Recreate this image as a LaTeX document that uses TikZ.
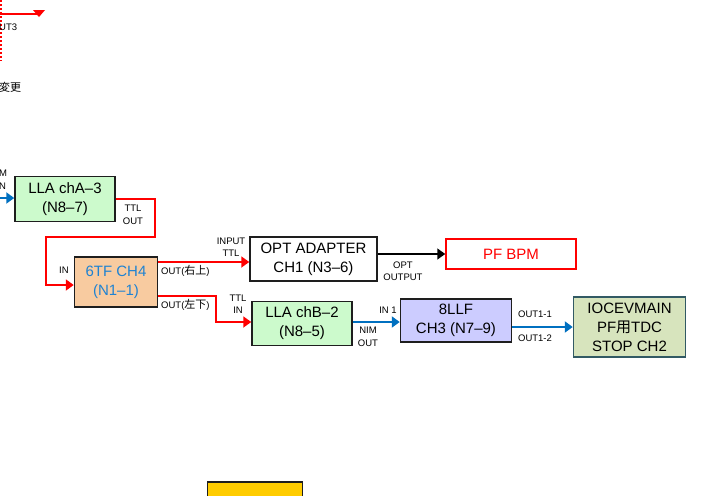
\documentclass[tikz,border=0pt]{standalone}
\usepackage{fontspec}
\setmainfont{Liberation Sans}
\newfontfamily\jp{Noto Sans CJK JP}
\usetikzlibrary{arrows.meta}
\definecolor{boxline}{RGB}{30,30,30}
\definecolor{boxgreen}{RGB}{204,250,204}
\definecolor{boxorange}{RGB}{248,203,160}
\definecolor{boxlav}{RGB}{204,204,255}
\definecolor{boxolive}{RGB}{215,228,189}
\definecolor{olivedge}{RGB}{50,90,100}
\definecolor{boxyellow}{RGB}{255,204,0}
\definecolor{sigred}{RGB}{255,0,0}
\definecolor{sigblue}{RGB}{0,112,192}
\definecolor{tfblue}{RGB}{30,130,210}
\newcommand{\jpsmall}[1]{{\jp\fontsize{11}{12}\selectfont #1}}

\begin{document}
\begin{tikzpicture}[x=1pt,y=-1pt,
    box/.style={draw=boxline,line width=1.5pt,align=center,inner sep=0pt,
      font=\fontsize{15}{19}\selectfont},
    lbl/.style={align=center,inner sep=0pt,font=\fontsize{9.5}{12.5}\selectfont},
    redline/.style={draw=sigred,line width=1.8pt},
    redarr/.style={redline,-{Triangle[length=8pt,width=11pt]}},
    bluearr/.style={draw=sigblue,line width=2pt,-{Triangle[length=8pt,width=11pt]}},
    blackarr/.style={draw=black,line width=1.6pt,-{Triangle[length=8pt,width=11pt]}}]
  \useasboundingbox (0,0) rectangle (716,496);
  \clip (0,0) rectangle (716,496);

  % top left corner
  \draw[sigred,line width=1.8pt,dash pattern=on 2pt off 2pt] (1,0) -- (1,61);
  \draw[redline] (0,14) -- (39,14);
  \fill[sigred] (33,10) -- (45,10) -- (39,17) -- cycle;
  \node[lbl,anchor=west] (ut3) at (-1,27) {UT3};
  \node[lbl,anchor=west] (henko) at (-1,87) {\jpsmall{変更}};

  % boxes
  \node[box,fill=boxgreen,minimum width=100pt,minimum height=45pt] (llaA) at (65,199) {LLA chA–3\\(N8–7)};
  \node[box,fill=boxorange,text=tfblue,minimum width=83pt,minimum height=50pt] (tf) at (116,282) {6TF CH4\\(N1–1)};
  \node[box,fill=white,minimum width=127pt,minimum height=44pt] (opt) at (313.5,259) {OPT ADAPTER\\CH1 (N3–6)};
  \node[box,draw=sigred,text=sigred,fill=white,minimum width=130pt,minimum height=30pt] (pf) at (511,254) {PF BPM};
  \node[box,fill=boxgreen,minimum width=100pt,minimum height=44pt] (llaB) at (302,323.5) {LLA chB–2\\(N8–5)};
  \node[box,fill=boxlav,minimum width=111pt,minimum height=43pt] (llf) at (456,320.5) {8LLF\\CH3 (N7–9)};
  \node[box,draw=olivedge,fill=boxolive,minimum width=112pt,minimum height=60pt] (ioc) at (629.5,327) {IOCEVMAIN\\PF{\jp 用}TDC\\STOP CH2};
  \node[box,fill=boxyellow,minimum width=95pt,minimum height=30pt] (ylw) at (255,497) {};

  % connectors
  \coordinate (inA) at (0,198);
  \coordinate (bendA) at (155,237);
  \coordinate (bendB) at (46,237);
  \draw[bluearr] (inA) -- (inA -| llaA.west);
  \draw[redarr] (llaA.east) -| (bendA) -- (bendB) |- ([yshift=-3pt]tf.west);
  \draw[redarr] ([yshift=20pt]tf.east) -- ([yshift=20pt]tf.east -| opt.west);
  \draw[redarr] ([yshift=-14pt]tf.east) -| ([xshift=-35pt,yshift=1.5pt]llaB.west) -- ([yshift=1.5pt]llaB.west);
  \draw[blackarr] ([yshift=5pt]opt.east) -- (pf.west);
  \draw[bluearr] ([yshift=1.5pt]llaB.east) -- ([yshift=1.5pt]llaB.east -| llf.west);
  \draw[bluearr] ([yshift=-6.5pt]llf.east) -- ([yshift=-6.5pt]llf.east -| ioc.west);

  % labels
  \node[lbl,anchor=west] (nimA) at (-1,173) {M};
  \node[lbl,anchor=west] (inAl) at (-1,186) {N};
  \node[lbl] (ttloutA) at (133,215) {TTL\\OUT};
  \node[lbl] (intf) at (64,270) {IN};
  \node[lbl,anchor=west] (outru) at (161,271) {OUT(\jpsmall{右上})};
  \node[lbl,anchor=west] (outld) at (161,305) {OUT(\jpsmall{左下})};
  \node[lbl] (inttl) at (231,247) {INPUT\\TTL};
  \node[lbl] (optout) at (403,271) {OPT\\OUTPUT};
  \node[lbl] (ttlin) at (238,304) {TTL\\IN};
  \node[lbl] (inone) at (388,310) {IN 1};
  \node[lbl] (nimout) at (368,337) {NIM\\OUT};
  \node[lbl] (outa) at (535,314) {OUT1-1};
  \node[lbl] (outb) at (535,338) {OUT1-2};
\end{tikzpicture}
\end{document}
